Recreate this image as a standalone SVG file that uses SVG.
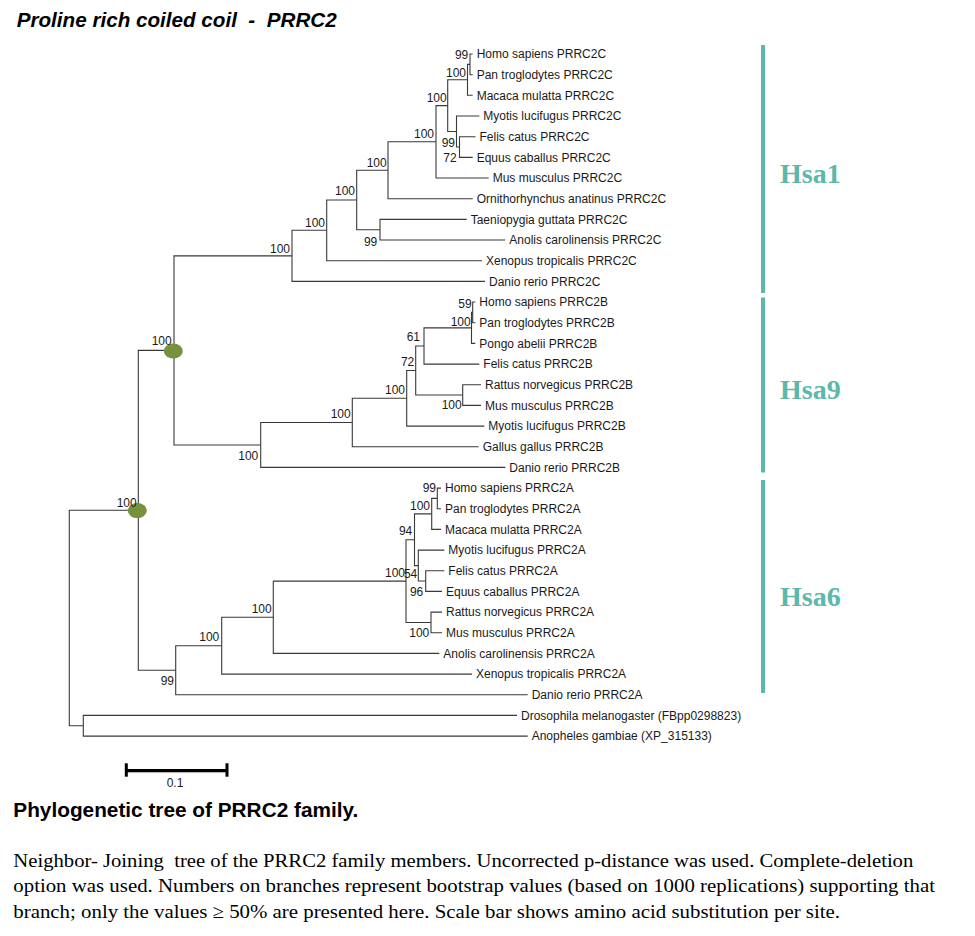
<svg xmlns="http://www.w3.org/2000/svg" width="975" height="936" viewBox="0 0 975 936">
<style>
.br{fill:none;stroke:#3a3a3a;stroke-width:1.1}
.lf{font-family:"Liberation Sans",Arial,sans-serif;font-size:12px;fill:#1a1a1a}
.bs{font-family:"Liberation Sans",Arial,sans-serif;font-size:12px;fill:#1a1a1a;text-anchor:end}
.nd{fill:#76923c}
.bar{fill:#5cb8aa}
.hsa{font-family:"Liberation Serif","Times New Roman",serif;font-size:28px;font-weight:bold;fill:#5cb8aa}
.ttl{font-family:"Liberation Sans",Arial,sans-serif;font-size:19.8px;font-weight:bold;font-style:italic;fill:#000;white-space:pre}
.cap{font-family:"Liberation Sans",Arial,sans-serif;font-size:19.8px;font-weight:bold;fill:#000}
.par{font-family:"Liberation Serif","Times New Roman",serif;font-size:19.2px;fill:#000;white-space:pre}
</style>
<rect width="975" height="936" fill="#fff"/>
<text class="ttl" x="16.7" y="27" xml:space="preserve" textLength="320" lengthAdjust="spacingAndGlyphs">Proline rich coiled coil  -  PRRC2</text>

<g id="connectors">
<path class="br" d="M472.7 54 H470 V74.7 H472.7"/>
<path class="br" d="M470 64.35 H467.5 V95.3 H472.7"/>
<path class="br" d="M475.5 136.7 H459.5 V157.4 H472.7"/>
<path class="br" d="M479.3 116 H456.5 V147.05 H459.5"/>
<path class="br" d="M467.5 79.8 H447.7 V131.5 H456.5"/>
<path class="br" d="M447.7 105.65 H436 V178 H488.7"/>
<path class="br" d="M436 141.8 H388 V198.7 H472.7"/>
<path class="br" d="M466.7 219.4 H380 V240 H505.3"/>
<path class="br" d="M388 170.25 H356.7 V229.7 H380"/>
<path class="br" d="M356.7 200 H326.7 V260.7 H482"/>
<path class="br" d="M326.7 230.3 H292 V281.4 H485"/>

<path class="br" d="M475.3 302 H472.7 V322.7 H475.3"/>
<path class="br" d="M472.7 312.35 H471.5 V343.4 H475.3"/>
<path class="br" d="M471.5 327.9 H424 V364.1 H479.3"/>
<path class="br" d="M481 384.7 H462.7 V405.4 H481"/>
<path class="br" d="M424 346 H415.7 V395.05 H462.7"/>
<path class="br" d="M415.7 370.5 H406.7 V426.1 H484.3"/>
<path class="br" d="M406.7 398.3 H352.3 V446.7 H478.7"/>
<path class="br" d="M352.3 422.5 H260.7 V467.4 H505.3"/>

<path class="br" d="M292 255.85 H174 V444.95 H260.7"/>

<path class="br" d="M441 488.1 H437.3 V508.7 H441"/>
<path class="br" d="M437.3 498.4 H431.7 V529.4 H441"/>
<path class="br" d="M444.3 570.7 H425.7 V591.4 H442"/>
<path class="br" d="M444.3 550.1 H418.3 V581.05 H425.7"/>
<path class="br" d="M431.7 513.9 H414.5 V565.6 H418.3"/>
<path class="br" d="M442 612.1 H431 V632.8 H442"/>
<path class="br" d="M414.5 539.75 H406 V622.45 H431"/>
<path class="br" d="M406 581.1 H273.3 V653.4 H439.3"/>
<path class="br" d="M273.3 617.25 H221.7 V674.1 H472"/>
<path class="br" d="M221.7 645.7 H175.7 V694.8 H527.7"/>
<path class="br" d="M174 350.4 H138.3 V670.25 H175.7"/>
<path class="br" d="M517 715.4 H83.3 V736.1 H527.7"/>
<path class="br" d="M138.3 510.3 H69.3 V725.75 H83.3"/>
</g>

<g id="nodes-internal">
<ellipse class="nd" cx="173.3" cy="351" rx="9.5" ry="7.5"/>
<ellipse class="nd" cx="137.3" cy="510.6" rx="9.5" ry="7.5"/>
</g>

<g id="bootstrap">
<text class="bs" x="468.3" y="58.5">99</text>
<text class="bs" x="466" y="77">100</text>
<text class="bs" x="446.7" y="101.7">100</text>
<text class="bs" x="434" y="138.3">100</text>
<text class="bs" x="455" y="147.3">99</text>
<text class="bs" x="456.7" y="161.7">72</text>
<text class="bs" x="386.7" y="166.7">100</text>
<text class="bs" x="355" y="195">100</text>
<text class="bs" x="325" y="226.7">100</text>
<text class="bs" x="377.3" y="246">99</text>
<text class="bs" x="290" y="253.3">100</text>
<text class="bs" x="171.7" y="345">100</text>

<text class="bs" x="471.7" y="308.3">59</text>
<text class="bs" x="470.7" y="326">100</text>
<text class="bs" x="420" y="340.7">61</text>
<text class="bs" x="414.3" y="366">72</text>
<text class="bs" x="405" y="394">100</text>
<text class="bs" x="461.7" y="409.3">100</text>
<text class="bs" x="350.7" y="418.3">100</text>
<text class="bs" x="258.3" y="460">100</text>

<text class="bs" x="436" y="492.3">99</text>
<text class="bs" x="430" y="510">100</text>
<text class="bs" x="412.3" y="535">94</text>
<text class="bs" x="405" y="576.7">100</text>
<text class="bs" x="417.3" y="577.5">54</text>
<text class="bs" x="423.3" y="595.7">96</text>
<text class="bs" x="429.3" y="636.7">100</text>
<text class="bs" x="271.7" y="612.7">100</text>
<text class="bs" x="219.3" y="641">100</text>
<text class="bs" x="174" y="685">99</text>
<text class="bs" x="136.7" y="506.7">100</text>
</g>

<g id="leaf-homo-2c"><text class="lf" x="476.7" y="58.3">Homo sapiens PRRC2C</text></g>
<g id="leaf-pan-2c"><text class="lf" x="476.7" y="79">Pan troglodytes PRRC2C</text></g>
<g id="leaf-macaca-2c"><text class="lf" x="476.7" y="99.6">Macaca mulatta PRRC2C</text></g>
<g id="leaf-myotis-2c"><text class="lf" x="483.3" y="120.3">Myotis lucifugus PRRC2C</text></g>
<g id="leaf-felis-2c"><text class="lf" x="479.5" y="141">Felis catus PRRC2C</text></g>
<g id="leaf-equus-2c"><text class="lf" x="476.7" y="161.7">Equus caballus PRRC2C</text></g>
<g id="leaf-mus-2c"><text class="lf" x="492.7" y="182.3">Mus musculus PRRC2C</text></g>
<g id="leaf-ornitho-2c"><text class="lf" x="476.7" y="203">Ornithorhynchus anatinus PRRC2C</text></g>
<g id="leaf-taenio-2c"><text class="lf" x="470.7" y="223.7">Taeniopygia guttata PRRC2C</text></g>
<g id="leaf-anolis-2c"><text class="lf" x="509.3" y="244.3">Anolis carolinensis PRRC2C</text></g>
<g id="leaf-xenopus-2c"><text class="lf" x="486" y="265">Xenopus tropicalis PRRC2C</text></g>
<g id="leaf-danio-2c"><text class="lf" x="489" y="285.7">Danio rerio PRRC2C</text></g>

<g id="leaf-homo-2b"><text class="lf" x="479.3" y="306.3">Homo sapiens PRRC2B</text></g>
<g id="leaf-pan-2b"><text class="lf" x="479.3" y="327">Pan troglodytes PRRC2B</text></g>
<g id="leaf-pongo-2b"><text class="lf" x="479.3" y="347.7">Pongo abelii PRRC2B</text></g>
<g id="leaf-felis-2b"><text class="lf" x="483.3" y="368.4">Felis catus PRRC2B</text></g>
<g id="leaf-rattus-2b"><text class="lf" x="485" y="389">Rattus norvegicus PRRC2B</text></g>
<g id="leaf-mus-2b"><text class="lf" x="485" y="409.7">Mus musculus PRRC2B</text></g>
<g id="leaf-myotis-2b"><text class="lf" x="488.3" y="430.4">Myotis lucifugus PRRC2B</text></g>
<g id="leaf-gallus-2b"><text class="lf" x="482.7" y="451">Gallus gallus PRRC2B</text></g>
<g id="leaf-danio-2b"><text class="lf" x="509.3" y="471.7">Danio rerio PRRC2B</text></g>

<g id="leaf-homo-2a"><text class="lf" x="445" y="492.4">Homo sapiens PRRC2A</text></g>
<g id="leaf-pan-2a"><text class="lf" x="445" y="513">Pan troglodytes PRRC2A</text></g>
<g id="leaf-macaca-2a"><text class="lf" x="445" y="533.7">Macaca mulatta PRRC2A</text></g>
<g id="leaf-myotis-2a"><text class="lf" x="448.3" y="554.4">Myotis lucifugus PRRC2A</text></g>
<g id="leaf-felis-2a"><text class="lf" x="448.3" y="575">Felis catus PRRC2A</text></g>
<g id="leaf-equus-2a"><text class="lf" x="446" y="595.7">Equus caballus PRRC2A</text></g>
<g id="leaf-rattus-2a"><text class="lf" x="446" y="616.4">Rattus norvegicus PRRC2A</text></g>
<g id="leaf-mus-2a"><text class="lf" x="446" y="637.1">Mus musculus PRRC2A</text></g>
<g id="leaf-anolis-2a"><text class="lf" x="443.3" y="657.7">Anolis carolinensis PRRC2A</text></g>
<g id="leaf-xenopus-2a"><text class="lf" x="476" y="678.4">Xenopus tropicalis PRRC2A</text></g>
<g id="leaf-danio-2a"><text class="lf" x="531.7" y="699.1">Danio rerio PRRC2A</text></g>
<g id="leaf-drosophila"><text class="lf" x="521" y="719.7">Drosophila melanogaster (FBpp0298823)</text></g>
<g id="leaf-anopheles"><text class="lf" x="531.7" y="740.4">Anopheles gambiae (XP_315133)</text></g>

<g id="group-hsa1"><rect class="bar" x="761" y="45" width="4" height="248"/><text class="hsa" x="780" y="183">Hsa1</text></g>
<g id="group-hsa9"><rect class="bar" x="761" y="297.5" width="4" height="175"/><text class="hsa" x="780" y="399">Hsa9</text></g>
<g id="group-hsa6"><rect class="bar" x="761" y="480" width="4" height="213"/><text class="hsa" x="780" y="606">Hsa6</text></g>

<g id="scale-bar">
<rect x="126" y="769" width="101" height="3.3" fill="#000"/>
<rect x="124.8" y="763.3" width="3" height="13.4" fill="#000"/>
<rect x="225.5" y="763.3" width="3" height="13.4" fill="#000"/>
<text class="lf" x="175" y="786.7" text-anchor="middle" font-size="11">0.1</text>
</g>

<text class="cap" x="13.3" y="817.3" textLength="345" lengthAdjust="spacingAndGlyphs">Phylogenetic tree of PRRC2 family.</text>
<text class="par" x="13.3" y="866.7" xml:space="preserve" textLength="900" lengthAdjust="spacingAndGlyphs">Neighbor- Joining  tree of the PRRC2 family members. Uncorrected p-distance was used. Complete-deletion</text>
<text class="par" x="13.3" y="892.3" textLength="921.7" lengthAdjust="spacingAndGlyphs">option was used. Numbers on branches represent bootstrap values (based on 1000 replications) supporting that</text>
<text class="par" x="13.3" y="917.7" textLength="826.7" lengthAdjust="spacingAndGlyphs">branch; only the values ≥ 50% are presented here. Scale bar shows amino acid substitution per site.</text>
</svg>
